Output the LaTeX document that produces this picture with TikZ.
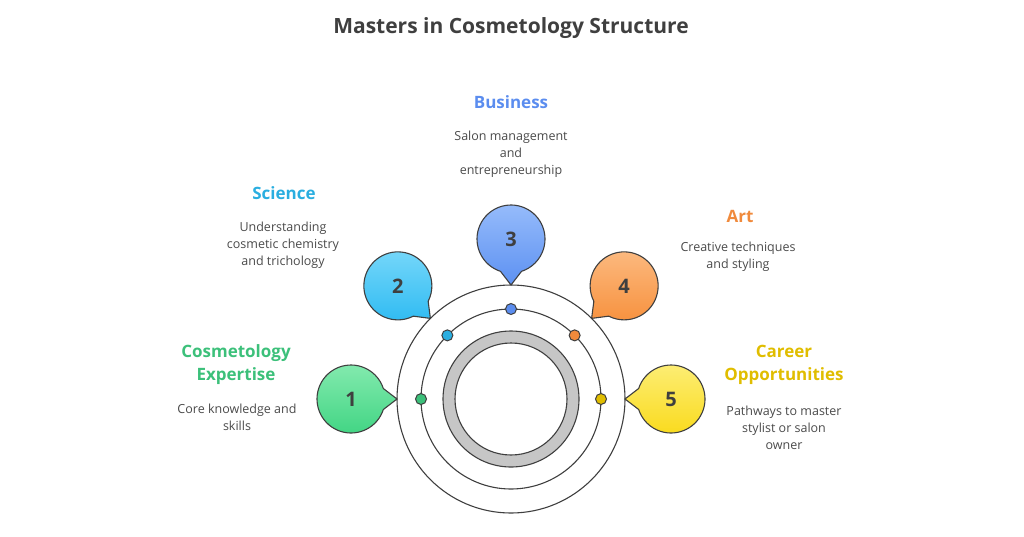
\documentclass[tikz,border=0pt]{standalone}
\usepackage{fontspec}
\setmainfont{Open Sans}
\usetikzlibrary{positioning,calc}

\definecolor{ink}{HTML}{3F3F3F}
\definecolor{body}{HTML}{4A4A4A}
\definecolor{gA}{HTML}{3CC07A}
\definecolor{gAt}{HTML}{86EBB0}
\definecolor{gAb}{HTML}{3FD482}
\definecolor{bB}{HTML}{2AAEE0}
\definecolor{bBt}{HTML}{78D8FA}
\definecolor{bBb}{HTML}{2DBAF2}
\definecolor{cC}{HTML}{5B8DEF}
\definecolor{cCt}{HTML}{98BDFB}
\definecolor{cCb}{HTML}{5D91F2}
\definecolor{oD}{HTML}{F08A3C}
\definecolor{oDt}{HTML}{FCBB82}
\definecolor{oDb}{HTML}{F7923F}
\definecolor{yE}{HTML}{E0BD00}
\definecolor{yEt}{HTML}{FDEE78}
\definecolor{yEb}{HTML}{F9DA1A}

\tikzset{
  ring/.style={draw=ink, line width=1.1pt},
  heading/.style={font=\bfseries\fontsize{17}{23}\selectfont, align=center},
  blurb/.style={text=body, font=\fontsize{12.5}{17}\selectfont, align=center},
  number/.style={text=ink, font=\bfseries\fontsize{20}{24}\selectfont},
}

\begin{document}
\begin{tikzpicture}[x=1pt, y=-1pt]
    \useasboundingbox (0,0) rectangle (1024,536);

    % Title
    \node[text=ink, font=\bfseries\fontsize{21}{25}\selectfont] (title) at (511,28) {Masters in Cosmetology Structure};

    % Rings
    \coordinate (hub) at (511,399);
    \draw[ring] (hub) circle (114);
    \draw[ring] (hub) circle (90);
    \draw[ink, line width=1.1pt, fill=gray!45, even odd rule] (hub) circle (68) (hub) circle (56);

    % Bubbles with tails
    \foreach \n/\ang/\top/\bot/\dot in {1/180/gAt/gAb/gA, 2/135/bBt/bBb/bB, 3/90/cCt/cCb/cC, 4/45/oDt/oDb/oD, 5/0/yEt/yEb/yE} {
        \coordinate (tip\n) at ($(hub)+(-\ang:114)$);
        \coordinate (bub\n) at ($(hub)+(-\ang:160)$);
        \draw[ring, top color=\top, bottom color=\bot]
            ($(bub\n)+({-\ang+198}:34)$) arc[start angle={-\ang+198}, end angle={-\ang+522}, radius=34]
            -- (tip\n) -- cycle;
        \node[number] (num\n) at (bub\n) {\n};
        \draw[ink, line width=1pt, fill=\dot] ($(hub)+(-\ang:90)$) circle (5.5);
    }

    % Labels
    \node[heading, text=gA] (expertise) at (236,365) {Cosmetology\\Expertise};
    \node[blurb] (expertisetext) at (237,417) {Core knowledge and\\skills};

    \node[heading, text=bB] (science) at (284,193) {Science};
    \node[blurb] (sciencetext) at (283,245) {Understanding\\cosmetic chemistry\\and trichology};

    \node[heading, text=cC] (business) at (511,102) {Business};
    \node[blurb] (businesstext) at (511,154) {Salon management\\and\\entrepreneurship};

    \node[heading, text=oD] (art) at (740,216) {Art};
    \node[blurb] (arttext) at (738,257) {Creative techniques\\and styling};

    \node[heading, text=yE] (career) at (784,365) {Career\\Opportunities};
    \node[blurb] (careertext) at (784,428) {Pathways to master\\stylist or salon\\owner};

\end{tikzpicture}
\end{document}
